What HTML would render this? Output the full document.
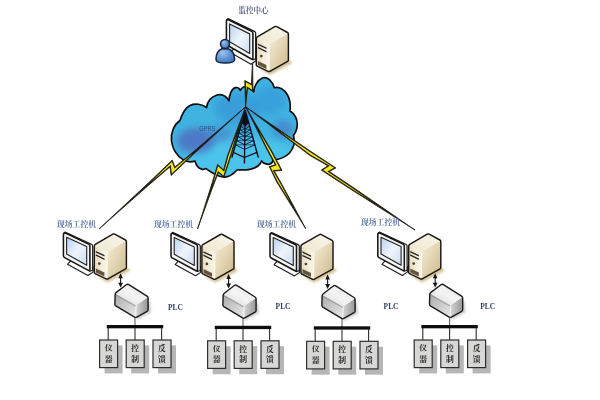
<!DOCTYPE html>
<html><head><meta charset="utf-8"><title>GPRS monitoring diagram</title>
<style>html,body{margin:0;padding:0;background:#fff;overflow:hidden}svg{display:block}body{font-family:"Liberation Sans",sans-serif}</style>
</head><body>
<svg width="600" height="400" viewBox="0 0 600 400">
<rect width="600" height="400" fill="#fff"/>
<defs>
<linearGradient id="scr" x1="0" y1="0" x2="1" y2="1">
 <stop offset="0" stop-color="#b4cff0"/><stop offset=".5" stop-color="#f0f5fc"/><stop offset="1" stop-color="#cbdcf3"/>
</linearGradient>
<linearGradient id="tside" x1="0" y1="0" x2="1" y2="1">
 <stop offset="0" stop-color="#f3ecd8"/><stop offset=".45" stop-color="#e4d7b6"/><stop offset="1" stop-color="#cbb787"/>
</linearGradient>
<linearGradient id="tfront" x1="0" y1="0" x2="1" y2="0">
 <stop offset="0" stop-color="#e6dbbd"/><stop offset=".6" stop-color="#f4eedb"/><stop offset="1" stop-color="#f8f4e6"/>
</linearGradient>
<linearGradient id="ttop" x1="0" y1="1" x2="1" y2="0">
 <stop offset="0" stop-color="#efe7cf"/><stop offset="1" stop-color="#f9f6ea"/>
</linearGradient>
<linearGradient id="pfront" x1="0" y1="0" x2="1" y2="1">
 <stop offset="0" stop-color="#a9a9a9"/><stop offset=".55" stop-color="#cecece"/><stop offset="1" stop-color="#e9e9e9"/>
</linearGradient>
<linearGradient id="pside" x1="0" y1="0" x2="1" y2="0">
 <stop offset="0" stop-color="#d6d6d6"/><stop offset="1" stop-color="#969696"/>
</linearGradient>
<linearGradient id="ptop" x1="0" y1="1" x2="1" y2="0">
 <stop offset="0" stop-color="#d9d9d9"/><stop offset=".5" stop-color="#f4f4f4"/><stop offset="1" stop-color="#e2e2e2"/>
</linearGradient>
<radialGradient id="usr" cx=".35" cy=".3" r=".8">
 <stop offset="0" stop-color="#9fc4ee"/><stop offset=".55" stop-color="#5e90d2"/><stop offset="1" stop-color="#4273b8"/>
</radialGradient>
<filter id="b1" x="-30%" y="-30%" width="160%" height="160%"><feGaussianBlur stdDeviation="1"/></filter>
<filter id="b3" x="-30%" y="-30%" width="160%" height="160%"><feGaussianBlur stdDeviation="3.5"/></filter>


<g id="mon" transform="translate(0 .6)">
 <path d="M67.5 263.7 L70.6 260.2 L93 266 L93 271.5 L87.9 274.9Z" fill="#fbfbfb" stroke="#1c1c1c" stroke-width="1.1" stroke-linejoin="round"/>
 <path d="M65 231.5 L91.4 243.6 Q92.7 244.2 92.7 245.4 L92.7 269.6 L89.8 270.6 L63.4 233Z" fill="#fbfbfb" stroke="#161616" stroke-width="1.2" stroke-linejoin="round"/>
 <path d="M63.4 234.6 Q63.4 231.6 66 232.8 L88.6 243.5 Q89.9 244.1 89.9 245.5 L89.9 268.8 Q89.9 270.6 88.4 269.8 L64.6 257 Q63.4 256.3 63.4 255Z" fill="#f4f4f4" stroke="#161616" stroke-width="1.55" stroke-linejoin="round"/>
 <path d="M66.6 236.6 L86.7 246 L86.7 264.6 L66.6 253.4Z" fill="url(#scr)" stroke="#222" stroke-width="1.1" stroke-linejoin="round"/>
</g>

<g id="tow">
 <path d="M96 276 L107.8 282.4 L130.5 270.4 L126.4 267 L107 278Z" fill="#d6c397" filter="url(#b1)"/>
 <path d="M94.3 245 L107.2 251.8 L107 279.2 L94.3 273.2Z" fill="url(#tfront)"/>
 <path d="M107.2 251.8 L126.4 240.6 L126.4 268.4 L107 279.2Z" fill="url(#tside)"/>
 <path d="M94.3 245 L113.8 233.7 L126.4 240.6 L107.2 251.8Z" fill="url(#ttop)"/>
 <path d="M107.2 252.2 L107 278.6" stroke="#fbf8ee" stroke-width="1.2" fill="none"/>
 <path d="M95.8 250.9 L104.5 255 L104.5 256.5 L95.8 252.4Z M95.8 254.3 L104.5 258.4 L104.5 259.9 L95.8 255.8Z" fill="#2a2622"/>
 <circle cx="99.3" cy="263.6" r="1.35" fill="#453f35"/>
 <path d="M95.9 268.6 L104.4 272.6 L104.4 276.6 L95.9 272.6Z" fill="#66523e"/>
 <path d="M94.3 246 Q94.3 244.9 95.3 244.3 L112.8 234.2 Q113.8 233.6 114.8 234.2 L125.5 240 Q126.4 240.5 126.4 241.6 L126.4 267.6 Q126.4 268.5 125.6 268.9 L107.9 278.8 Q107 279.3 106.1 278.9 L95.1 273.6 Q94.3 273.2 94.3 272.2Z" fill="none" stroke="#1a1714" stroke-width="1.45" stroke-linejoin="round"/>
</g>

<g id="plc">
 <path d="M137 320 L151 312.5 L150 300 L146 305 L136 316Z" fill="#bbb" opacity=".7" filter="url(#b1)"/>
 <path d="M114.8 293.3 L136.2 305.1 L135.7 317.6 L114.9 305.2Z" fill="url(#pfront)"/>
 <path d="M136.2 305.1 L148.1 297 L148.1 310.7 L135.7 317.6Z" fill="url(#pside)"/>
 <path d="M114.8 293.3 L127.5 283.9 L148.1 297 L136.2 305.1Z" fill="url(#ptop)"/>
 <path d="M115.3 294.6 L136 306.2" stroke="#9a9a9a" stroke-width="1.3" fill="none" opacity=".8"/>
 <path d="M136.1 305.6 L135.7 317.2" stroke="#fafafa" stroke-width="1" fill="none"/>
 <path d="M115.1 295 Q115 293.4 116.3 292.4 L126.3 284.7 Q127.5 283.8 128.8 284.6 L147 296.2 Q148.1 296.9 148.1 298.2 L148.1 309.6 Q148.1 310.7 147.1 311.3 L136.8 317.1 Q135.7 317.7 134.6 317.1 L115.8 305.9 Q114.9 305.3 114.9 304.2Z" fill="none" stroke="#1c1c1c" stroke-width="1.4" stroke-linejoin="round"/>
 <path d="M120.6 276.5 V285" stroke="#151515" stroke-width="1.1" fill="none"/>
 <path d="M120.6 273.2 L122.9 278.3 L118.3 278.3Z M120.6 287.6 L123 282.8 L118.2 282.8Z" fill="#151515"/>
 <path d="M135 317.5 V326" stroke="#444" stroke-width=".9" fill="none"/>
</g>
<g id="bxs"><rect x="106.8" y="325" width="56.4" height="3.3" fill="#0a0a0a"/><path d="M108.2 328 V340" stroke="#2e2e2e" stroke-width="1.1"/><rect x="104.6" y="345.4" width="18" height="28" fill="#b6b6b6"/><rect x="99.6" y="340" width="18" height="27.6" fill="#d7d7d5" stroke="#2e2e2e" stroke-width="1.2"/><g fill="#262626" font-family="'Liberation Serif','Noto Serif CJK SC',serif" font-size="7.8" font-weight="bold"><text x="104.7" y="350.9">仪</text><text x="104.7" y="361.7">器</text></g><path d="M135.0 328 V340" stroke="#2e2e2e" stroke-width="1.1"/><rect x="131.2" y="345.4" width="18" height="28" fill="#b6b6b6"/><rect x="126.2" y="340" width="18" height="27.6" fill="#d7d7d5" stroke="#2e2e2e" stroke-width="1.2"/><g fill="#262626" font-family="'Liberation Serif','Noto Serif CJK SC',serif" font-size="7.8" font-weight="bold"><text x="131.3" y="350.9">控</text><text x="131.3" y="361.7">制</text></g><path d="M161.6 328 V340" stroke="#2e2e2e" stroke-width="1.1"/><rect x="158.0" y="345.4" width="18" height="28" fill="#b6b6b6"/><rect x="153.0" y="340" width="18" height="27.6" fill="#d7d7d5" stroke="#2e2e2e" stroke-width="1.2"/><g fill="#262626" font-family="'Liberation Serif','Noto Serif CJK SC',serif" font-size="7.8" font-weight="bold"><text x="158.1" y="350.9">反</text><text x="158.1" y="361.7">馈</text></g></g><filter id="soft" x="0" y="0" width="600" height="400" filterUnits="userSpaceOnUse"><feGaussianBlur stdDeviation="0.42"/></filter></defs>
<g filter="url(#soft)">
<clipPath id="cc"><path d="M180 120.5 C182 114 185 108 190 105.5 C195 103 202 104 206.5 107.5 C207.5 101 212 96.5 217 95 C222 93.8 226.5 96.5 229 100.8 C229.3 94 232 88.5 235.5 87.6 C237.5 87.2 239.3 88.4 240.3 90.3 C241.5 88 244 86.3 247 86.5 C250 86.8 252.5 89 253.7 91.8 C254 86.5 257.5 80 262.5 78 C267.5 76.5 272.5 81 274.3 87.7 C279 86.5 284.5 89.5 287.5 95 C290 99.5 290.8 105 290 111 C294.5 113.5 297.5 119 297.3 124.5 C297 129.5 295.5 133 293.5 135.3 C295 141 294 148 289.5 153 C285.5 157.2 279 159.5 273 160 C272.5 163 270 164.8 267 164.2 C264.5 163.8 262.5 162.5 261.5 161 C260.5 165 256 168 250 169.3 C245 170.3 240 169.6 237 170 C233 174.5 228 177.5 223 177 C217.5 176.5 212 173 206 168.6 C203.5 170 199.5 169.3 197.3 166.3 C196.2 164.8 195.6 162.8 195 161 C191 162.5 186.5 161.8 183 159.6 C177 155.8 172.5 148.5 171.5 141 C170.5 133 174 124.5 180 120.5Z"/></clipPath>
<path d="M180 120.5 C182 114 185 108 190 105.5 C195 103 202 104 206.5 107.5 C207.5 101 212 96.5 217 95 C222 93.8 226.5 96.5 229 100.8 C229.3 94 232 88.5 235.5 87.6 C237.5 87.2 239.3 88.4 240.3 90.3 C241.5 88 244 86.3 247 86.5 C250 86.8 252.5 89 253.7 91.8 C254 86.5 257.5 80 262.5 78 C267.5 76.5 272.5 81 274.3 87.7 C279 86.5 284.5 89.5 287.5 95 C290 99.5 290.8 105 290 111 C294.5 113.5 297.5 119 297.3 124.5 C297 129.5 295.5 133 293.5 135.3 C295 141 294 148 289.5 153 C285.5 157.2 279 159.5 273 160 C272.5 163 270 164.8 267 164.2 C264.5 163.8 262.5 162.5 261.5 161 C260.5 165 256 168 250 169.3 C245 170.3 240 169.6 237 170 C233 174.5 228 177.5 223 177 C217.5 176.5 212 173 206 168.6 C203.5 170 199.5 169.3 197.3 166.3 C196.2 164.8 195.6 162.8 195 161 C191 162.5 186.5 161.8 183 159.6 C177 155.8 172.5 148.5 171.5 141 C170.5 133 174 124.5 180 120.5Z" fill="#41b3e1"/>
<g clip-path="url(#cc)"><ellipse cx="245" cy="160" rx="60" ry="22" fill="#4cc3ea" filter="url(#b3)"/><ellipse cx="238" cy="108" rx="24" ry="16" fill="#389bd9" filter="url(#b3)" opacity=".85"/><ellipse cx="270" cy="100" rx="16" ry="14" fill="#349ad9" filter="url(#b3)" opacity=".7"/><ellipse cx="196" cy="140.5" rx="19" ry="12.5" fill="#4d79c6" filter="url(#b3)"/><ellipse cx="219" cy="134" rx="13" ry="8" fill="#4a80c9" filter="url(#b3)" opacity=".55"/><ellipse cx="283" cy="129" rx="10" ry="9" fill="#4a84cb" filter="url(#b3)" opacity=".9"/></g>
<path d="M180 120.5 C182 114 185 108 190 105.5 C195 103 202 104 206.5 107.5 C207.5 101 212 96.5 217 95 C222 93.8 226.5 96.5 229 100.8 C229.3 94 232 88.5 235.5 87.6 C237.5 87.2 239.3 88.4 240.3 90.3 C241.5 88 244 86.3 247 86.5 C250 86.8 252.5 89 253.7 91.8 C254 86.5 257.5 80 262.5 78 C267.5 76.5 272.5 81 274.3 87.7 C279 86.5 284.5 89.5 287.5 95 C290 99.5 290.8 105 290 111 C294.5 113.5 297.5 119 297.3 124.5 C297 129.5 295.5 133 293.5 135.3 C295 141 294 148 289.5 153 C285.5 157.2 279 159.5 273 160 C272.5 163 270 164.8 267 164.2 C264.5 163.8 262.5 162.5 261.5 161 C260.5 165 256 168 250 169.3 C245 170.3 240 169.6 237 170 C233 174.5 228 177.5 223 177 C217.5 176.5 212 173 206 168.6 C203.5 170 199.5 169.3 197.3 166.3 C196.2 164.8 195.6 162.8 195 161 C191 162.5 186.5 161.8 183 159.6 C177 155.8 172.5 148.5 171.5 141 C170.5 133 174 124.5 180 120.5Z" fill="none" stroke="#0c0c10" stroke-width="1.7" stroke-linejoin="round"/>
<text transform="translate(199.3 131) scale(.0565 .072)" x="0" y="0" font-family="'Liberation Sans',sans-serif" font-size="100" fill="#2b3b63" opacity=".8">GPRS</text>
<g stroke="#0b1020" fill="none" stroke-linecap="round" stroke-linejoin="round"><path d="M245.3 110.5 L241.7 123.1 L245.1 125.7 L248.8 123.1Z" fill="#0b1020" stroke="none"/><path d="M245.3 110.5 L232.0 157.0 M245.3 110.5 L258.2 157.0 M245.3 110.5 L244.4 163.0" stroke-width="1.4"/><path d="M241.7 123.0 L245.0 125.7 L248.8 123.0" stroke-width="0.9"/><path d="M240.8 126.2 L245.0 125.7 M249.7 126.2 L245.0 125.7" stroke-width=".6"/><path d="M240.8 126.2 L245.0 129.2 L249.7 126.2" stroke-width="0.9"/><path d="M239.9 129.5 L245.0 129.2 M250.6 129.5 L245.0 129.2" stroke-width=".6"/><path d="M239.9 129.5 L244.9 132.7 L250.6 129.5" stroke-width="0.9"/><path d="M238.9 133.0 L244.9 132.7 M251.5 133.0 L244.9 132.7" stroke-width=".6"/><path d="M238.9 133.0 L244.9 136.5 L251.5 133.0" stroke-width="0.9"/><path d="M237.8 136.7 L244.9 136.5 M252.6 136.7 L244.9 136.5" stroke-width=".6"/><path d="M237.8 136.7 L244.8 140.6 L252.6 136.7" stroke-width="0.9"/><path d="M236.7 140.6 L244.8 140.6 M253.7 140.6 L244.8 140.6" stroke-width=".6"/><path d="M236.7 140.6 L244.7 144.8 L253.7 140.6" stroke-width="0.9"/><path d="M235.5 144.8 L244.7 144.8 M254.8 144.8 L244.7 144.8" stroke-width=".6"/><path d="M235.5 144.8 L244.6 149.4 L254.8 144.8" stroke-width="0.9"/><path d="M233.3 152.3 L244.5 157.5 L256.9 152.3" stroke-width="1.3"/></g>
<path d="M245.60 106.80 L196.40 149.21 L174.90 166.90 L172.25 160.10 L150.48 180.99 L99.00 229.00 L148.50 185.30 L170.00 166.90 L171.10 175.50 L193.14 154.56Z" fill="#1e1c12" stroke="#1e1c12" stroke-width=".8" stroke-linejoin="miter" stroke-miterlimit="10"/><path d="M151.25 181.63 L170.76 164.94 L171.84 173.42 L192.46 153.83 L193.38 153.00 L174.47 168.55 L171.86 161.86Z" fill="#f4e61c"/>
<path d="M245.60 106.80 L231.20 155.00 L224.00 177.10 L218.40 172.60 L211.85 189.42 L197.50 229.00 L211.86 183.87 L217.60 164.40 L223.60 170.00 L227.70 155.00Z" fill="#1e1c12" stroke="#1e1c12" stroke-width=".8" stroke-linejoin="miter" stroke-miterlimit="10"/><path d="M212.77 184.30 L217.96 170.97 L223.50 175.41 L230.25 154.70 L235.87 135.86 L228.65 155.31 L224.13 171.86 L218.10 166.24 L212.81 184.16Z" fill="#f4e61c"/>
<path d="M245.60 106.80 L272.30 152.00 L282.00 170.40 L274.35 171.10 L284.05 188.27 L305.80 228.80 L276.70 182.00 L269.25 166.60 L275.10 164.75 L265.89 147.55Z" fill="#1e1c12" stroke="#1e1c12" stroke-width=".8" stroke-linejoin="miter" stroke-miterlimit="10"/><path d="M258.96 131.39 L266.78 147.09 L276.55 165.34 L270.65 167.20 L277.58 181.52 L290.09 201.65 L283.17 188.75 L272.72 170.25 L280.42 169.54 L271.43 152.49Z" fill="#f4e61c"/>
<path d="M245.60 106.80 L308.59 149.90 L335.90 167.90 L329.35 171.50 L355.21 188.80 L415.00 230.00 L349.21 188.32 L321.25 170.10 L327.85 165.85 L310.00 155.60Z" fill="#1e1c12" stroke="#1e1c12" stroke-width=".8" stroke-linejoin="miter" stroke-miterlimit="10"/><path d="M279.17 130.99 L310.55 154.76 L329.77 165.80 L323.09 170.11 L349.75 187.48 L371.84 201.47 L354.65 189.63 L327.43 171.42 L333.96 167.82 L308.03 150.73Z" fill="#f4e61c"/>
<path d="M252.60 61.00 L253.00 91.75 L247.60 88.00 L245.60 106.80 L244.75 80.50 L251.35 84.10Z" fill="#1e1c12" stroke="#1e1c12" stroke-width=".8" stroke-linejoin="miter" stroke-miterlimit="10"/><path d="M251.92 85.55 L245.81 82.22 L246.13 92.34 L246.78 86.22 L251.97 89.82Z" fill="#f4e61c"/>
<use href="#mon" transform="translate(163 -213.6) translate(0 231) scale(1 1.055) translate(0 -231)"/>
<use href="#tow" transform="translate(162 -207.5)"/>
<g stroke="#14213d" stroke-width="1.5" stroke-linejoin="round" transform="translate(0 1)"><path d="M216.1 59 C215.6 53.5 218.3 48.8 222 47.8 L228.2 47.8 C232 48.8 235 53.5 234.5 59 C234.3 61.2 231.5 62 225.3 62 C219 62 216.3 61.2 216.1 59Z" fill="url(#usr)"/><circle cx="225" cy="43" r="4.5" fill="url(#usr)"/></g>
<text x="238.6" y="12.8" font-family="'Liberation Serif','Noto Serif CJK SC',serif" font-size="7.5" font-weight="bold" fill="#62698c">监控中心</text>
<g transform="translate(0 0)"><use href="#mon"/><use href="#tow"/></g><g transform="translate(0 0)"><use href="#plc"/><use href="#bxs"/></g>
<text x="57" y="227.3" font-family="'Liberation Serif','Noto Serif CJK SC',serif" font-size="7.8" font-weight="bold" fill="#5f78a6">现场工控机</text>
<text transform="translate(167.9 309.7) scale(.0745 .087)" x="0" y="0" font-family="'Liberation Serif',serif" font-size="100" font-weight="bold" fill="#323f5e">PLC</text>
<g transform="translate(107.6 0.3)"><use href="#mon"/><use href="#tow"/></g><g transform="translate(108 0.8)"><use href="#plc"/><use href="#bxs"/></g>
<text x="154" y="227.3" font-family="'Liberation Serif','Noto Serif CJK SC',serif" font-size="7.8" font-weight="bold" fill="#5f78a6">现场工控机</text>
<text transform="translate(275.6 308.8) scale(.0745 .087)" x="0" y="0" font-family="'Liberation Serif',serif" font-size="100" font-weight="bold" fill="#323f5e">PLC</text>
<g transform="translate(206.6 0.4)"><use href="#mon"/><use href="#tow"/></g><g transform="translate(207 1.3)"><use href="#plc"/><use href="#bxs"/></g>
<text x="257" y="227.3" font-family="'Liberation Serif','Noto Serif CJK SC',serif" font-size="7.8" font-weight="bold" fill="#5f78a6">现场工控机</text>
<text transform="translate(383.6 308.8) scale(.0745 .087)" x="0" y="0" font-family="'Liberation Serif',serif" font-size="100" font-weight="bold" fill="#323f5e">PLC</text>
<g transform="translate(314.4 0)"><use href="#mon"/><use href="#tow"/></g><g transform="translate(314.6 0)"><use href="#plc"/><use href="#bxs"/></g>
<text x="361" y="224.7" font-family="'Liberation Serif','Noto Serif CJK SC',serif" font-size="7.8" font-weight="bold" fill="#5f78a6">现场工控机</text>
<text transform="translate(480.2 309.1) scale(.0745 .087)" x="0" y="0" font-family="'Liberation Serif',serif" font-size="100" font-weight="bold" fill="#323f5e">PLC</text>
</g>
</svg>
</body></html>
